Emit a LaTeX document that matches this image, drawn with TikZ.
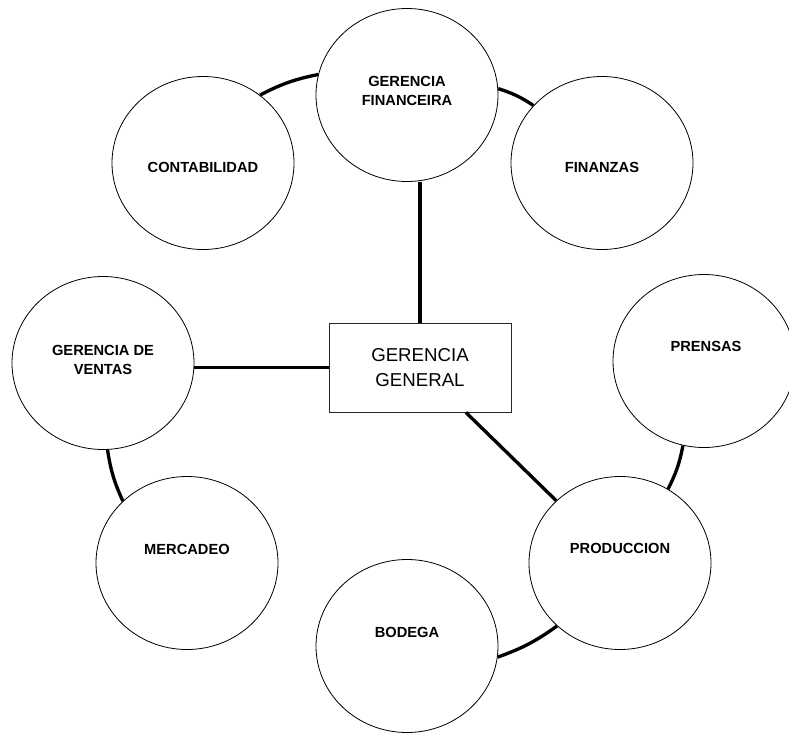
\documentclass[tikz,border=0pt]{standalone}
\usepackage{fontspec}
\setmainfont{Liberation Sans}
\usetikzlibrary{shapes.geometric}
\begin{document}
\begin{tikzpicture}[x=0.75pt,y=-0.75pt,
  unit/.style={ellipse, draw, line width=0.6pt, minimum width=136.5pt, minimum height=129.75pt, inner sep=0pt},
  head/.style={draw=black!85, line width=0.6pt, minimum width=136.5pt, minimum height=66.75pt, inner sep=0pt,
    font=\fontsize{14}{18.75}\selectfont, align=center},
  lbl/.style={font=\fontsize{11}{13.8}\selectfont\bfseries, align=center, inner sep=0pt},
  link/.style={line width=2.5pt}]
\useasboundingbox (0,0) rectangle (789,732);

% central box
\node[head] (gg) at (420,367.5) {GERENCIA\\GENERAL};

% departments
\node[unit] (gf)   at (407,95)  {};
\node[unit] (cont) at (203,163) {};
\node[unit] (fin)  at (602,163) {};
\node[unit] (pren) at (704,361) {};
\node[unit] (gv)   at (103,363) {};
\node[unit] (merc) at (187,563) {};
\node[unit] (prod) at (620,563) {};
\node[unit] (bod)  at (407,646) {};

% department names
\node[lbl] (gf-t)   at (407,91)  {GERENCIA\\FINANCEIRA};
\node[lbl] (cont-t) at (203,167) {CONTABILIDAD};
\node[lbl] (fin-t)  at (602,167) {FINANZAS};
\node[lbl] (pren-t) at (706,346) {PRENSAS};
\node[lbl] (gv-t)   at (103,360) {GERENCIA DE\\VENTAS};
\node[lbl] (merc-t) at (187,549) {MERCADEO};
\node[lbl] (prod-t) at (620,548) {PRODUCCION};
\node[lbl] (bod-t)  at (407,632) {BODEGA};

% links to the central box
\draw[link] (gg.north) -- (gf.south -| gg.north);
\draw[link] (gv.east |- gg.west) -- (gg.west);
\draw[link] (gg) -- (prod);

% links between neighbouring departments, short arcs of the outer ring
\draw[link] (cont.50) to[bend left=8] (gf.167);
\draw[link] (gf.4) to[bend left=8] (fin.140);
\draw[link] (pren.256) to[bend left=8] (prod.57);
\draw[link] (prod.225) to[bend left=8] (bod.-7);
\draw[link] (merc.136) to[bend left=8] (gv.273);
\end{tikzpicture}
\end{document}
